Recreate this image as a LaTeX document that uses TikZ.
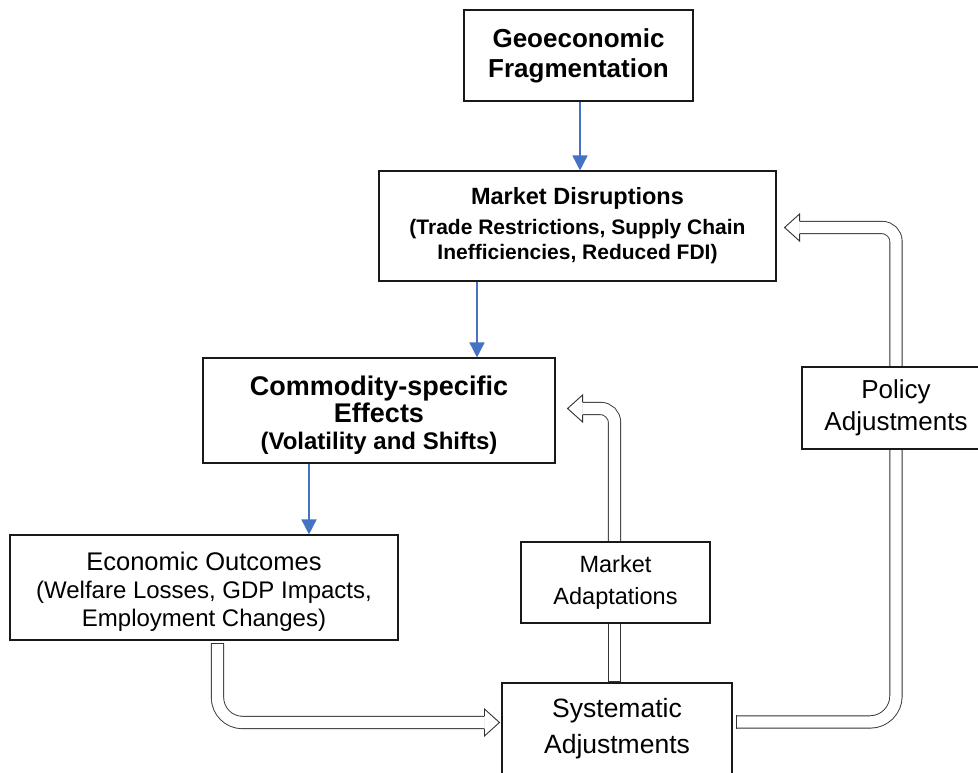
\documentclass[tikz,border=0pt]{standalone}
\usepackage{fontspec}
\setmainfont{Liberation Sans}
\usetikzlibrary{arrows.meta}
\definecolor{linkblue}{RGB}{68,114,196}

\begin{document}
\begin{tikzpicture}[x=1pt,y=-1pt]
  \tikzset{box/.style = {draw=black!90, line width=1.1pt, fill=white, align=center, inner sep=0pt}}
  \tikzset{link/.style = {draw=linkblue, line width=1.6pt, -{Triangle[length=15pt,width=15pt]}}}
  \tikzset{hollow/.style = {draw=black!80, line width=0.9pt, double=white, double distance=11.4pt}}
  \tikzset{rim/.style = {draw=black!80, line width=0.9pt}}
  \tikzset{hhead/.pic = {\filldraw[rim, fill=white] (-15pt,6.15pt) -- (-15pt,13.5pt) -- (0pt,0pt) -- (-15pt,-13.5pt) -- (-15pt,-6.15pt);}}

  \useasboundingbox (0,0) rectangle (978,773);

	\node[box, minimum width=229pt, minimum height=91pt, font=\bfseries\fontsize{26}{30}\selectfont] (geo) at (578.5,55.5) {Geoeconomic\\Fragmentation};
	\node[box, minimum width=397pt, minimum height=110pt, font=\bfseries\fontsize{21}{25}\selectfont] (disr) at (577.5,226)
	  {{\fontsize{23.5}{25}\selectfont Market Disruptions}\\[5pt](Trade Restrictions, Supply Chain\\Inefficiencies, Reduced FDI)};
	\node[box, minimum width=352pt, minimum height=105pt, font=\bfseries\fontsize{24}{27}\selectfont] (comm) at (379,410.5)
	  {{\fontsize{27}{27}\selectfont\rule{0pt}{29pt}Commodity-specific}\\{\fontsize{27}{27}\selectfont Effects}\\(Volatility and Shifts)};
	\node[box, minimum width=388pt, minimum height=105pt, font=\fontsize{24}{28}\selectfont] (econ) at (204,587.5)
	  {{\fontsize{25.5}{28}\selectfont\rule{0pt}{26pt}Economic Outcomes}\\(Welfare Losses, GDP Impacts,\\Employment Changes)};

	\node[box, minimum width=189pt, minimum height=81pt, font=\fontsize{23.5}{32}\selectfont] (adapt) at (615.5,582.5) {Market\\Adaptations};
	\node[box, minimum width=230pt, minimum height=92pt, font=\fontsize{26.5}{36}\selectfont] (syst) at (617,729) {Systematic\\Adjustments};
	\node[box, minimum width=188pt, minimum height=82pt, font=\fontsize{26}{32}\selectfont] (policy) at (896,408) {Policy\\Adjustments};

	% main chain
	\draw[link] ([xshift=1.5pt]geo.south) -- ([xshift=1.5pt]geo.south |- disr.north);
	\draw[link] ([xshift=-100.5pt]disr.south) -- ([xshift=-100.5pt]disr.south |- comm.north);
	\draw[link] ([xshift=-70pt]comm.south) -- ([xshift=-70pt]comm.south |- econ.north);

	% outcomes -> systematic adjustments
	\coordinate (a1) at ([xshift=13.5pt,yshift=-3pt]econ.south);
	\coordinate (a2) at ([xshift=-2pt,yshift=6.5pt]syst.west);
	\draw[hollow, rounded corners=25pt] (a1) -- (a1 |- a2) -- ([xshift=-15pt]a2);
	\draw[rim] ([xshift=-6.6pt]a1) -- ([xshift=6.6pt]a1);
	\pic at (a2) {hhead};

	% feedback through market adaptations
	\coordinate (b0) at ([xshift=-2.5pt,yshift=1pt]syst.north);
	\coordinate (b1) at ([xshift=12pt,yshift=2pt]comm.east);
	\draw[hollow, shorten >=0.6pt] (b0) -- (b0 |- adapt.south);
	\draw[rim] ([xshift=-6.6pt]b0) -- ([xshift=6.6pt]b0);
	\draw[hollow, rounded corners=14pt, shorten <=0.6pt] (b0 |- adapt.north) -- (b0 |- b1) -- ([xshift=15pt]b1);
	\pic[rotate=180] at (b1) {hhead};

	% feedback through policy adjustments
	\coordinate (c0) at ([xshift=4pt,yshift=7pt]syst.east);
	\coordinate (c1) at ([xshift=8pt,yshift=-1.5pt]disr.east);
	\draw[hollow, rounded corners=26pt, shorten >=0.6pt] (c0) -- (c0 -| policy.south) -- (policy.south);
	\draw[rim] ([yshift=-6.6pt]c0) -- ([yshift=6.6pt]c0);
	\draw[hollow, rounded corners=14pt, shorten <=0.6pt] (policy.north) -- (policy.north |- c1) -- ([xshift=15pt]c1);
	\pic[rotate=180] at (c1) {hhead};
\end{tikzpicture}
\end{document}
